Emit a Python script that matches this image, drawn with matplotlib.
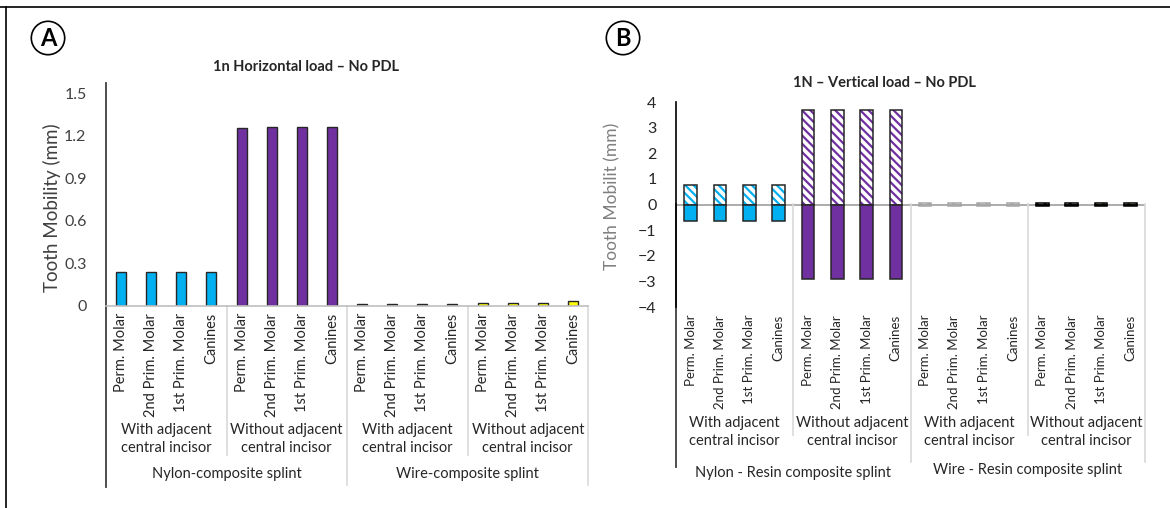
import numpy as np
import matplotlib
matplotlib.use('Agg')
from matplotlib import pyplot as plt
from matplotlib.lines import Line2D
from matplotlib.transforms import blended_transform_factory

plt.rcParams['font.family'] = ['Lato', 'DejaVu Sans']
plt.rcParams['hatch.linewidth'] = 1.6

teeth = ['Perm. Molar', '2nd Prim. Molar', '1st Prim. Molar', 'Canines']
subgroups = ['With adjacent\ncentral incisor', 'Without adjacent\ncentral incisor']
splints_h = ['Nylon-composite splint', 'Wire-composite splint']
splints_v = ['Nylon - Resin composite splint', 'Wire - Resin composite splint']

# horizontal load, mobility (mm)
h_nylon_with = [0.24, 0.24, 0.24, 0.24]
h_nylon_without = [1.255, 1.262, 1.262, 1.265]
h_wire_with = [0.01, 0.01, 0.01, 0.01]
h_wire_without = [0.02, 0.02, 0.022, 0.03]

# vertical load, upward / downward displacement (mm)
v_up_nylon_with = [0.77, 0.77, 0.77, 0.77]
v_dn_nylon_with = [-0.66, -0.66, -0.66, -0.66]
v_up_nylon_without = [3.67, 3.67, 3.67, 3.67]
v_dn_nylon_without = [-2.9, -2.9, -2.9, -2.9]
v_up_wire_with = [0.04, 0.04, 0.04, 0.04]
v_dn_wire_with = [-0.04, -0.04, -0.04, -0.04]
v_up_wire_without = [0.06, 0.06, 0.06, 0.06]
v_dn_wire_without = [-0.06, -0.06, -0.06, -0.06]

CYAN, PURPLE, YELLOW = '#00b0f0', '#7030a0', '#ffff00'
W, H = 1170, 508


def fy(px):
    return 1 - px / H


def fx(px):
    return px / W


def category_axis(ax, top, cat_y, grp_y, spl_y, minor_end, major_end, axis_end,
                  splint_names, cat_size, spl_dy=(0, 0)):
    tr = blended_transform_factory(ax.transData, fig.transFigure)
    for b in [3.5, 11.5]:
        ax.plot([b, b], [fy(top), fy(minor_end)], transform=tr, clip_on=False,
                color='#d9d9d9', lw=1.2)
    for b in [7.5, 15.5]:
        ax.plot([b, b], [fy(top), fy(major_end)], transform=tr, clip_on=False,
                color='#d9d9d9', lw=1.2)
    ax.plot([-0.5, -0.5], [fy(top), fy(axis_end)], transform=tr, clip_on=False,
            color='#404040', lw=1.3)
    for i in range(16):
        ax.text(i, fy(cat_y), teeth[i % 4], transform=tr, rotation=90,
                ha='center', va='top', fontsize=cat_size, color='#262626')
    for g in range(4):
        ax.text(g * 4 + 1.5, fy(grp_y), subgroups[g % 2], transform=tr,
                ha='center', va='center', fontsize=10.5, color='#262626',
                linespacing=1.35)
    for s in range(2):
        ax.text(s * 8 + 3.5, fy(spl_y + spl_dy[s]), splint_names[s], transform=tr,
                ha='center', va='center', fontsize=10.5, color='#262626')


fig = plt.figure(figsize=(W / 100, H / 100), dpi=100)
x = np.arange(16)

# panel A - horizontal load
axA = fig.add_axes([fx(106), fy(305.7), fx(588 - 106), (305.7 - 83) / H])
h_vals = h_nylon_with + h_nylon_without + h_wire_with + h_wire_without
h_cols = [CYAN] * 4 + [PURPLE] * 4 + ['#595959'] * 4 + [YELLOW] * 4
axA.bar(x, h_vals, width=0.33, color=h_cols, edgecolor='#262626', linewidth=1.0)
axA.set_xlim(-0.5, 15.5)
axA.set_ylim(0, 1.5 + 10.5 / 141)
axA.set_yticks([0, 0.3, 0.6, 0.9, 1.2, 1.5])
axA.set_yticklabels(['0', '0.3', '0.6', '0.9', '1.2', '1.5'])
axA.set_xticks([])
axA.tick_params(axis='y', length=0, pad=14, labelsize=11.5, labelcolor='#404040')
for s in ['top', 'right']:
    axA.spines[s].set_visible(False)
axA.spines['left'].set_color('#404040')
axA.spines['left'].set_linewidth(1.3)
axA.spines['bottom'].set_color('#bfbfbf')
axA.spines['bottom'].set_linewidth(1.2)
category_axis(axA, 305.7, 313, 439, 474, 455, 485, 487, splints_h, 10.5)
fig.text(fx(52), fy(208), 'Tooth Mobility (mm)', rotation=90, ha='center',
         va='center', fontsize=13.5, color='#404040')
fig.text(fx(306), fy(67), '1n Horizontal load – No PDL', ha='center',
         va='center', fontsize=10.5, fontweight='bold', color='#262626')

# panel B - vertical load
axB = fig.add_axes([fx(676), fy(307), fx(1145 - 676), (307 - 102) / H])
v_up = v_up_nylon_with + v_up_nylon_without + v_up_wire_with + v_up_wire_without
v_dn = v_dn_nylon_with + v_dn_nylon_without + v_dn_wire_with + v_dn_wire_without
v_cols = [CYAN] * 4 + [PURPLE] * 4 + ['#a6a6a6'] * 4 + ['#262626', '#262626', '#7f6f00', '#7f6f00']
v_edges = ['#262626'] * 8 + ['#a6a6a6'] * 4 + ['#000000'] * 4
axB.bar(x, v_up, width=0.43, color='white', edgecolor=v_cols, hatch='\\\\\\\\',
        linewidth=0)
axB.bar(x, v_up, width=0.43, fill=False, edgecolor=v_edges, linewidth=1.1)
axB.bar(x, v_dn, width=0.43, color=v_cols, edgecolor=v_edges, linewidth=1.1)
axB.axhline(0, color='#a6a6a6', lw=1.3, zorder=0.5)
axB.set_xlim(-0.5, 15.5)
axB.set_ylim(-4, 4)
axB.set_yticks(range(-4, 5))
axB.set_xticks([])
axB.tick_params(axis='y', length=0, pad=14, labelsize=11.5, labelcolor='#262626')
for s in ['top', 'right', 'bottom']:
    axB.spines[s].set_visible(False)
axB.spines['left'].set_color('#000000')
axB.spines['left'].set_linewidth(1.2)
category_axis(axB, 204, 315, 432, 472, 435, 462, 467, splints_v, 9.5,
              spl_dy=(1, -2))
fig.text(fx(612), fy(196), 'Tooth Mobilit (mm)', rotation=90, ha='center',
         va='center', fontsize=12.5, color='#7f7f7f')
fig.text(fx(884), fy(83), '1N – Vertical load – No PDL', ha='center',
         va='center', fontsize=10.5, fontweight='bold', color='#262626')

# panel letters
for letter, cx in [('A', 48), ('B', 623)]:
    fig.text(fx(cx), fy(38), letter, ha='center', va='center', fontsize=17,
             fontweight='bold', color='black',
             bbox=dict(boxstyle='circle,pad=0.22', fc='white', ec='black', lw=1.2))

# frame lines
fig.add_artist(Line2D([0, 1], [fy(7), fy(7)], transform=fig.transFigure,
                      color='black', lw=1.2))
fig.add_artist(Line2D([fx(6), fx(6)], [fy(7), 0], transform=fig.transFigure,
                      color='black', lw=1.2))

fig.savefig('out.png', dpi=100, facecolor='white')
